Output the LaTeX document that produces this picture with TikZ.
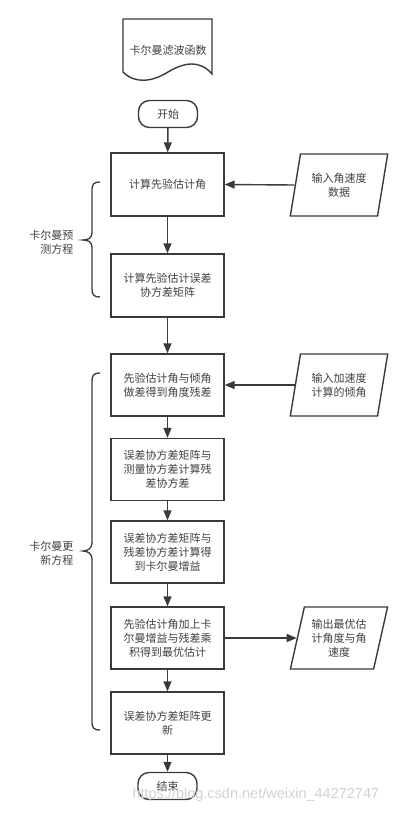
\documentclass[tikz,border=0pt]{standalone}
\usepackage{fontspec}
\setmainfont{Noto Sans CJK SC}
\newfontfamily\wmfont{Liberation Sans}
\usetikzlibrary{arrows.meta,shapes.geometric}
\definecolor{ln}{HTML}{3A3A3A}
\definecolor{tx}{HTML}{404040}
\begin{document}
\begin{tikzpicture}[x=1pt,y=-1pt,
  every node/.style={font=\fontsize{11}{14}\selectfont, text=tx},
  box/.style={draw=ln, line width=1.4pt, minimum width=113pt, minimum height=62pt, align=center, inner sep=2pt},
  term/.style={draw=ln, line width=1.4pt, rounded corners=11pt, minimum width=59pt, minimum height=27pt, inner sep=1pt},
  para/.style={draw=ln, line width=1.4pt, trapezium, trapezium left angle=74, trapezium right angle=106,
     trapezium stretches=true, minimum width=98pt, minimum height=62pt, align=center, inner sep=1pt},
  arr/.style={draw=ln, line width=1.4pt, -{Triangle[length=10pt,width=8pt]}},
  brc/.style={draw=ln, line width=1.3pt},
  lab/.style={align=right, anchor=east}
]
\useasboundingbox (0,0) rectangle (409,814);
% document shape
\draw[ln, line width=1.4pt, fill=white] (123,19) -- (212,19) -- (212,74)
  .. controls (200,60) and (185,62) .. (168,72)
  .. controls (152,82) and (135,84) .. (123,72) -- cycle;
\node (doc) at (168,50) {卡尔曼滤波函数};
% terminals
\node[term] (start) at (168,114) {开始};
\node[term] (stop) at (167.5,786) {结束};
% process boxes
\node[box, minimum height=63pt] (b1) at (167.5,184.5) {计算先验估计角};
\node[box, minimum height=63pt] (b2) at (167.5,285.5) {计算先验估计误差\\协方差矩阵};
\node[box] (b3) at (167.5,385) {先验估计角与倾角\\做差得到角度残差};
\node[box] (b4) at (167.5,469.5) {误差协方差矩阵与\\测量协方差计算残\\差协方差};
\node[box] (b5) at (167.5,552) {误差协方差矩阵与\\残差协方差计算得\\到卡尔曼增益};
\node[box] (b6) at (167.5,638) {先验估计角加上卡\\尔曼增益与残差乘\\积得到最优估计};
\node[box] (b7) at (167.5,723) {误差协方差矩阵更\\新};
% parallelograms
\node[para] (p1) at (339,185) {输入角速度\\数据};
\node[para] (p2) at (339,385) {输入加速度\\计算的倾角};
\node[para] (p3) at (339,638) {输出最优估\\计角度与角\\速度};
% connectors
\draw[arr] (start) -- (b1);
\draw[arr] (b1) -- (b2);
\draw[arr] (b2) -- (b3);
\draw[arr] (b3) -- (b4);
\draw[arr] (b4) -- (b5);
\draw[arr] (b5) -- (b6);
\draw[arr] (b6) -- (b7);
\draw[arr] (b7) -- (stop);
\draw[arr] (p1.left side) -- (b1.east);
\draw[arr] (p2.left side) -- (b3.east);
\draw[arr] (b6.east) -- (p3.left side);
% braces
\draw[brc] (100,182) .. controls (94,182) and (92,184) .. (92,190) -- (92,233)
  .. controls (92,238) and (88,240) .. (83,240)
  .. controls (88,240) and (92,242) .. (92,247) -- (92,289)
  .. controls (92,295) and (94,297) .. (100,297);
\draw[brc] (100,373) .. controls (94,373) and (92,375) .. (92,381) -- (92,543)
  .. controls (92,548) and (88,551) .. (83,551)
  .. controls (88,551) and (92,554) .. (92,559) -- (92,722)
  .. controls (92,728) and (94,730) .. (100,730);
\node[lab] (l1) at (77,242) {卡尔曼预\\测方程};
\node[lab] (l2) at (77,553) {卡尔曼更\\新方程};
% watermark
\node[font=\wmfont\fontsize{14.5}{16}\selectfont, text=black!18, anchor=west] (wm) at (129,795) {https://blog.csdn.net/weixin\_44272747};
\end{tikzpicture}
\end{document}
